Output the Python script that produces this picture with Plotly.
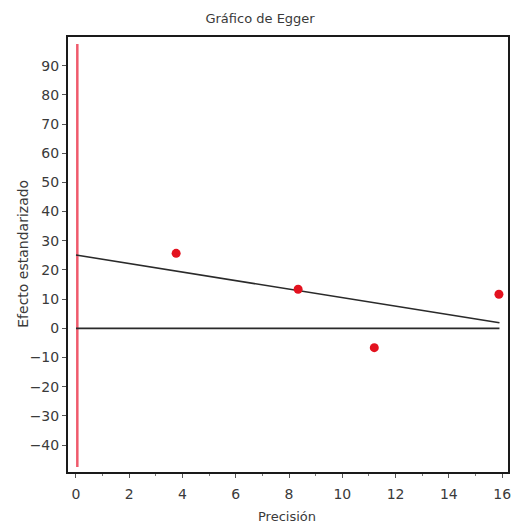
import plotly.graph_objects as go

# Studies: precision (1/SE) and standardized effect
precision = [3.76, 8.34, 11.2, 15.88]
std_effect = [25.7, 13.4, -6.6, 11.7]

# Egger regression line (fitted endpoints)
reg_x = [0.0, 15.9]
reg_y = [25.1, 1.9]

# Reference line at zero effect
zero_x = [0.0, 15.9]
zero_y = [0.0, 0.0]

# Vertical interval at precision 0 (intercept)
ci_x = [0.05, 0.05]
ci_y = [-47.5, 97.4]

x_ticks = list(range(0, 17, 2))
y_ticks = list(range(-40, 91, 10))

font_family = "DejaVu Sans, Verdana, sans-serif"
text_color = "#3a3a3a"

fig = go.Figure()
fig.add_trace(go.Scatter(x=ci_x, y=ci_y, mode="lines",
                         line=dict(color="#ef5a6c", width=2.5), showlegend=False))
fig.add_trace(go.Scatter(x=zero_x, y=zero_y, mode="lines",
                         line=dict(color="#2a2a2a", width=1.6), showlegend=False))
fig.add_trace(go.Scatter(x=reg_x, y=reg_y, mode="lines",
                         line=dict(color="#2a2a2a", width=1.6), showlegend=False))
fig.add_trace(go.Scatter(x=precision, y=std_effect, mode="markers",
                         marker=dict(color="#e3121f", size=9), showlegend=False))

fig.update_layout(
    width=513, height=532,
    margin=dict(l=68, r=3, t=37, b=60),
    paper_bgcolor="white", plot_bgcolor="white",
    font=dict(family=font_family, size=14, color=text_color),
    title=dict(text="Gráfico de Egger", x=0.507, xanchor="center",
               y=0.966, yanchor="middle", font=dict(size=13, color=text_color)),
    annotations=[
        dict(text="Efecto estandarizado", xref="paper", yref="paper",
             x=-0.102, y=0.502, xanchor="center", yanchor="middle",
             textangle=-90, showarrow=False, font=dict(size=14, color=text_color)),
        dict(text="Precisión", xref="paper", yref="paper",
             x=0.497, y=-0.103, xanchor="center", yanchor="middle",
             showarrow=False, font=dict(size=13, color=text_color)),
    ],
)
fig.update_xaxes(
    range=[-0.3, 16.22], tickmode="array", tickvals=x_ticks,
    ticks="outside", ticklen=4, tickcolor="#555", ticklabelstandoff=4,
    minor=dict(dtick=1, ticks="outside", ticklen=2, tickcolor="#777"),
    showgrid=False, zeroline=False,
    showline=True, linecolor="#1a1a1a", linewidth=2, mirror=True,
)
fig.update_yaxes(
    range=[-49.2, 99.8], tickmode="array", tickvals=y_ticks,
    ticks="outside", ticklen=4, tickcolor="#555",
    showgrid=False, zeroline=False,
    showline=True, linecolor="#1a1a1a", linewidth=2, mirror=True,
)

fig.write_html("out.html")
